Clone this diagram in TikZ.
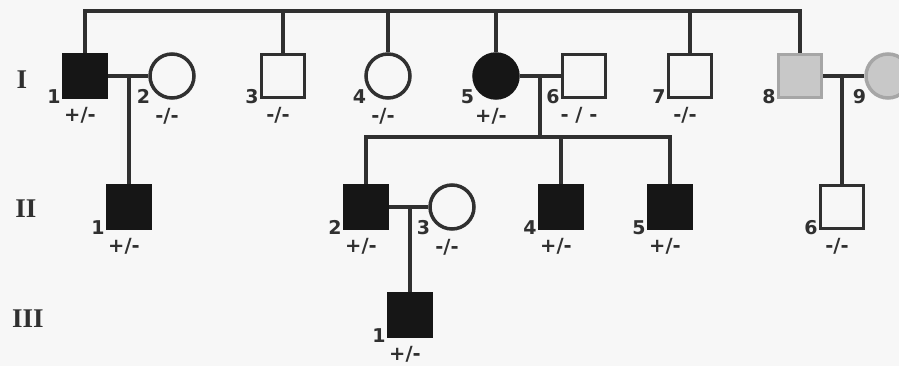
\documentclass[tikz,border=0pt]{standalone}
\usepackage{fontspec}
\setmainfont{Liberation Serif}
\setsansfont{DejaVu Sans}
\usetikzlibrary{positioning}
\definecolor{pdline}{HTML}{303030}
\definecolor{pdblack}{HTML}{161616}
\definecolor{pdgray}{HTML}{C8C8C8}
\definecolor{pdgrayline}{HTML}{A6A6A6}

\begin{document}
\begin{tikzpicture}[x=1pt, y=-1pt,
  male/.style={rectangle, draw=pdline, line width=3.5pt, minimum size=43pt, inner sep=0pt},
  female/.style={circle, draw=pdline, line width=3.5pt, minimum size=44pt, inner sep=0pt},
  aff/.style={fill=pdblack, draw=pdblack},
  unk/.style={fill=pdgray, draw=pdgrayline},
  num/.style={font=\sffamily\bfseries\fontsize{19}{19}\selectfont, text=pdline, inner sep=0pt},
  mid/.style={label={[num, anchor=east, xshift=-1pt, yshift=3pt]south west:#1}},
  fid/.style={label={[num, anchor=east, xshift=-5pt, yshift=-3.5pt]south west:#1}},
  gt/.style={label={[font=\sffamily\bfseries\fontsize{19.5}{19.5}\selectfont, text=pdline,
             inner sep=0pt, label distance=8pt, xshift=-5pt]below:#1}},
  gen/.style={font=\rmfamily\bfseries\fontsize{27}{27}\selectfont, text=pdline},
  link/.style={draw=pdline, line width=3.5pt},
]
\fill[black!3] (0,0) rectangle (899,366);
\useasboundingbox (0,0) rectangle (899,366);
\clip (0,0) rectangle (899,366);

% generation labels
\node[gen] (gI)   at (22,80)  {I};
\node[gen] (gII)  at (26,209) {II};
\node[gen] (gIII) at (28,319) {III};

% generation I
\node[male, aff, mid=1, gt=+/-]    (i1) at (85,76)  {};
\node[female, fid=2, gt=-/-]       (i2) at (172,76) {};
\node[male, mid=3, gt=-/-]         (i3) at (283,76) {};
\node[female, fid=4, gt=-/-]       (i4) at (388,76) {};
\node[female, aff, fid=5, gt=+/-]  (i5) at (496,76) {};
\node[male, mid=6, gt={- / -}]     (i6) at (584,76) {};
\node[male, mid=7, gt=-/-]         (i7) at (690,76) {};
\node[male, unk, mid=8]            (i8) at (800,76) {};
\node[female, unk, fid=9]          (i9) at (888,76) {};

% generation II
\node[male, aff, mid=1, gt=+/-]    (ii1) at (129,207) {};
\node[male, aff, mid=2, gt=+/-]    (ii2) at (366,207) {};
\node[female, fid=3, gt=-/-]       (ii3) at (452,207) {};
\node[male, aff, mid=4, gt=+/-]    (ii4) at (561,207) {};
\node[male, aff, mid=5, gt=+/-]    (ii5) at (670,207) {};
\node[male, mid=6, gt=-/-]         (ii6) at (842,207) {};

% generation III
\node[male, aff, mid=1, gt=+/-]    (iii1) at (410,315) {};

% sibship lines
\coordinate (topI)  at (0,11);
\coordinate (topII) at (0,137);
\draw[link] (i1.north) -- (i1.north |- topI) -- (i8.north |- topI) -- (i8.north);
\foreach \k in {i3,i4,i5,i7}
  \draw[link] (\k.north) -- (\k.north |- topI);
\draw[link] (ii2.north) -- (ii2.north |- topII) -- (ii5.north |- topII) -- (ii5.north);
\draw[link] (ii4.north) -- (ii4.north |- topII);

% matings and descent
\draw[link] (i1) -- (i2);
\draw[link] (i5) -- (i6);
\draw[link] (i8) -- (i9);
\draw[link] (ii2) -- (ii3);
\coordinate (m1)  at (129,76);
\coordinate (m5)  at (540,76);
\coordinate (m8)  at (842,76);
\coordinate (m22) at (410,207);
\draw[link] (m1) -- (ii1.north);
\draw[link] (m5) -- (m5 |- topII);
\draw[link] (m8) -- (ii6.north);
\draw[link] (m22) -- (iii1.north);
\end{tikzpicture}
\end{document}
